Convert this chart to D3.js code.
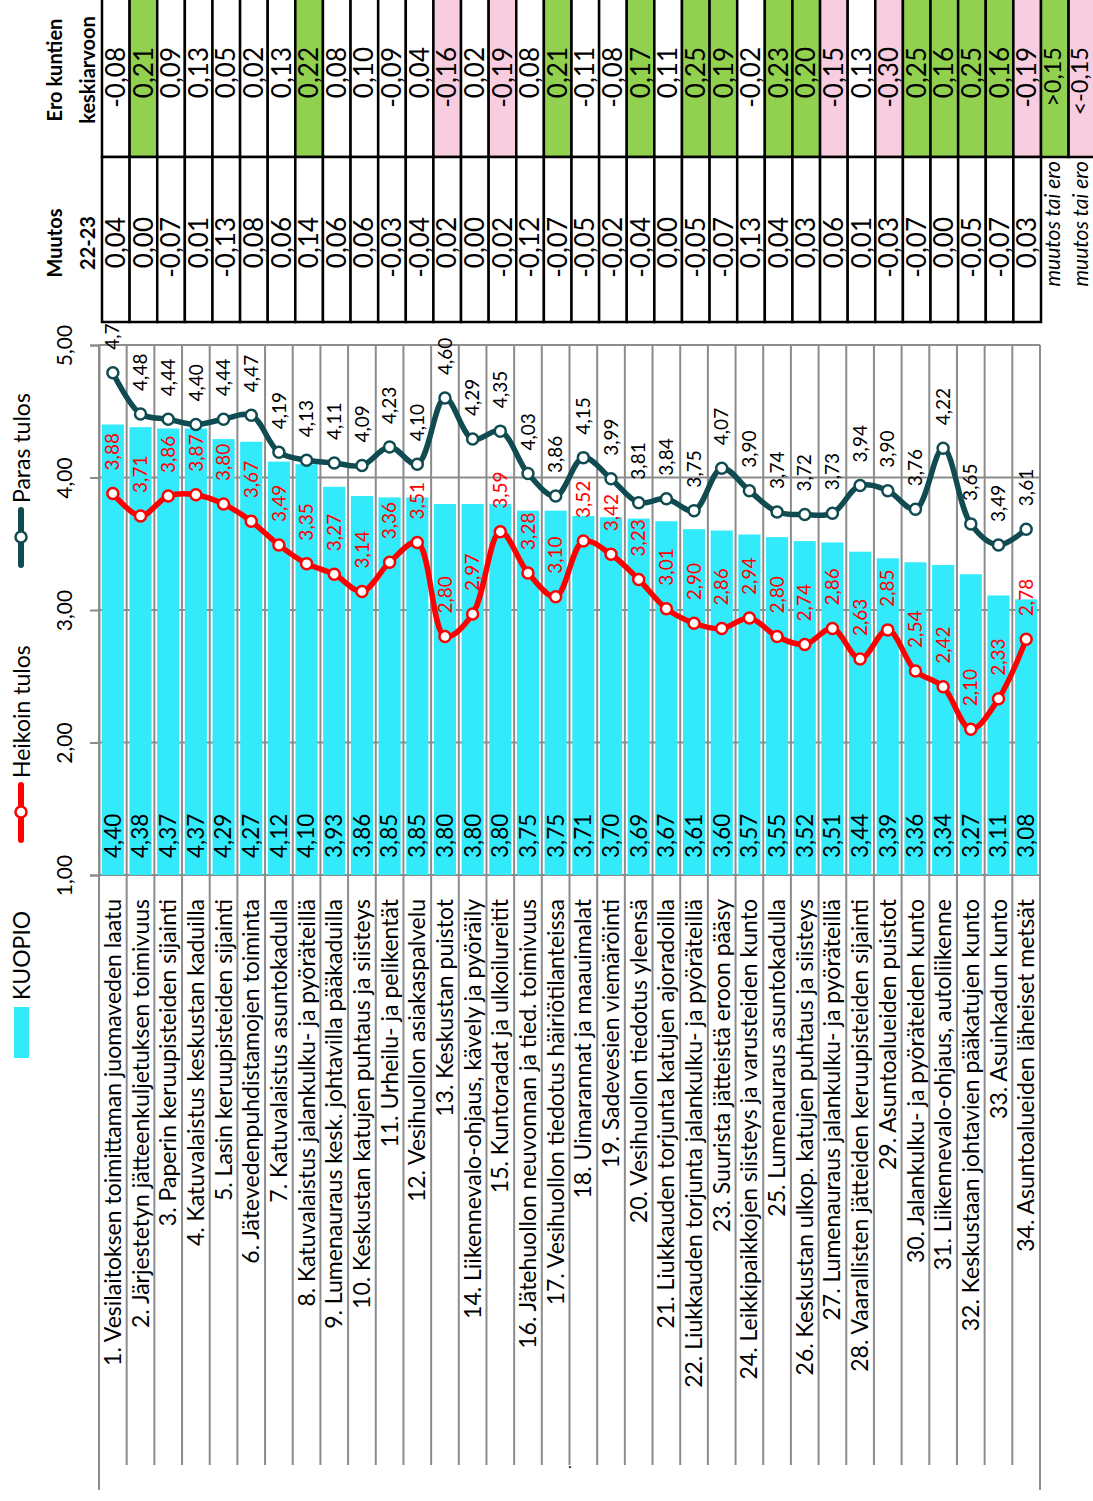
<!DOCTYPE html>
<html>
<head>
<meta charset="utf-8">
<script src="https://cdn.jsdelivr.net/npm/d3@7"></script>
<style>
  body { margin: 0; background: #fff; }
  svg text { font-family: Lato, "Open Sans", sans-serif; }
</style>
</head>
<body>
<div id="chart"></div>
<script>
// questions, in chart order
const categories = [
  "1. Vesilaitoksen toimittaman juomaveden laatu",
  "2. Järjestetyn jätteenkuljetuksen toimivuus",
  "3. Paperin keruupisteiden sijainti",
  "4. Katuvalaistus keskustan kaduilla",
  "5. Lasin keruupisteiden sijainti",
  "6. Jätevedenpuhdistamojen toiminta",
  "7. Katuvalaistus asuntokadulla",
  "8. Katuvalaistus jalankulku- ja pyöräteillä",
  "9. Lumenauraus kesk. johtavilla pääkaduilla",
  "10. Keskustan katujen puhtaus ja siisteys",
  "11. Urheilu- ja pelikentät",
  "12. Vesihuollon asiakaspalvelu",
  "13. Keskustan puistot",
  "14. Liikennevalo-ohjaus, kävely ja pyöräily",
  "15. Kuntoradat ja ulkoilureitit",
  "16. Jätehuollon neuvonnan ja tied. toimivuus",
  "17. Vesihuollon tiedotus häiriötilanteissa",
  "18. Uimarannat ja maauimalat",
  "19. Sadevesien viemäröinti",
  "20. Vesihuollon tiedotus yleensä",
  "21. Liukkauden torjunta katujen ajoradoilla",
  "22. Liukkauden torjunta jalankulku- ja pyöräteillä",
  "23. Suurista jätteistä eroon pääsy",
  "24. Leikkipaikkojen siisteys ja varusteiden kunto",
  "25. Lumenauraus asuntokadulla",
  "26. Keskustan ulkop. katujen puhtaus ja siisteys",
  "27. Lumenauraus jalankulku- ja pyöräteillä",
  "28. Vaarallisten jätteiden keruupisteiden sijainti",
  "29. Asuntoalueiden puistot",
  "30. Jalankulku- ja pyöräteiden kunto",
  "31. Liikennevalo-ohjaus, autoliikenne",
  "32. Keskustaan johtavien pääkatujen kunto",
  "33. Asuinkadun kunto",
  "34. Asuntoalueiden läheiset metsät"
];

// KUOPIO (bars)
const kuopio = [4.40, 4.38, 4.37, 4.37, 4.29, 4.27, 4.12, 4.10, 3.93, 3.86, 3.85, 3.85,
  3.80, 3.80, 3.80, 3.75, 3.75, 3.71, 3.70, 3.69, 3.67, 3.61, 3.60, 3.57, 3.55, 3.52,
  3.51, 3.44, 3.39, 3.36, 3.34, 3.27, 3.11, 3.08];

// Heikoin tulos (red line)
const heikoin = [3.88, 3.71, 3.86, 3.87, 3.80, 3.67, 3.49, 3.35, 3.27, 3.14, 3.36, 3.51,
  2.80, 2.97, 3.59, 3.28, 3.10, 3.52, 3.42, 3.23, 3.01, 2.90, 2.86, 2.94, 2.80, 2.74,
  2.86, 2.63, 2.85, 2.54, 2.42, 2.10, 2.33, 2.78];

// Paras tulos (dark line)
const paras = [4.79, 4.48, 4.44, 4.40, 4.44, 4.47, 4.19, 4.13, 4.11, 4.09, 4.23, 4.10,
  4.60, 4.29, 4.35, 4.03, 3.86, 4.15, 3.99, 3.81, 3.84, 3.75, 4.07, 3.90, 3.74, 3.72,
  3.73, 3.94, 3.90, 3.76, 4.22, 3.65, 3.49, 3.61];

// table: Muutos 22-23
const muutos = [0.04, 0.00, -0.07, 0.01, -0.13, 0.08, 0.06, 0.14, 0.06, 0.06, -0.03, -0.04,
  0.02, 0.00, -0.02, -0.12, -0.07, -0.05, -0.02, -0.04, 0.00, -0.05, -0.07, 0.13, 0.04, 0.03,
  0.06, 0.01, -0.03, -0.07, 0.00, -0.05, -0.07, 0.03];

// table: Ero kuntien keskiarvoon
const ero = [-0.08, 0.21, 0.09, 0.13, 0.05, 0.02, 0.13, 0.22, 0.08, 0.10, -0.09, 0.04,
  -0.16, 0.02, -0.19, 0.08, 0.21, -0.11, -0.08, 0.17, 0.11, 0.25, 0.19, -0.02, 0.23, 0.20,
  -0.15, 0.13, -0.30, 0.25, 0.16, 0.25, 0.16, -0.19];

const valueTicks = [1, 2, 3, 4, 5];
const limit = 0.15;

const width = 1093, height = 1501;
const cBar = "#33EAFB", cBest = "#0F4B50", cWorst = "#FF0000", cGrid = "#8C8C8C";
const cGreen = "#92D050", cPink = "#F9CDE0";

const fi = d3.formatLocale({decimal: ",", thousands: " ", grouping: [3], currency: ["", "€"], minus: "-"});
const f2 = fi.format(".2f");

const svg = d3.select("#chart").append("svg")
    .attr("width", width)
    .attr("height", height);

// scales: categories run left to right, values run upwards
const x = d3.scaleBand()
    .domain(d3.range(categories.length))
    .range([99, 1040])
    .paddingInner(0.2)
    .paddingOuter(0.1);
const y = d3.scaleLinear().domain([1, 5]).range([875, 345]);
const cx = i => x(i) + x.bandwidth() / 2;
const edges = d3.range(categories.length).map(i => x(i) - x.step() * x.paddingInner() / 2)
    .concat([x.range()[1]]);

// rotated text helper (reads bottom to top)
function vtext(g, px, py, str, size, anchor) {
  return g.append("text")
      .attr("transform", "translate(" + px + "," + py + ") rotate(-90)")
      .attr("dy", "0.35em")
      .attr("text-anchor", anchor)
      .style("font-size", size + "px")
      .text(str);
}

// horizontal gridlines (behind the bars)
svg.append("g").selectAll("line")
  .data(valueTicks)
  .enter().append("line")
    .attr("x1", x.range()[0]).attr("x2", x.range()[1])
    .attr("y1", d => y(d)).attr("y2", d => y(d))
    .attr("stroke", cGrid).attr("stroke-width", 2);

// bars
svg.append("g").selectAll("rect")
  .data(kuopio)
  .enter().append("rect")
    .attr("x", (d, i) => x(i))
    .attr("width", x.bandwidth())
    .attr("y", d => y(d))
    .attr("height", d => y(1) - y(d))
    .style("fill", cBar);

// category separators, running down through the label area
svg.append("g").selectAll("line")
  .data(edges)
  .enter().append("line")
    .attr("x1", d => d).attr("x2", d => d)
    .attr("y1", y(5))
    .attr("y2", (d, i) => (i === 0 || i === edges.length - 1) ? 1490 : 1465)
    .attr("stroke", cGrid).attr("stroke-width", 2);

// value axis
const axis = svg.append("g")
    .attr("transform", "translate(" + x.range()[0] + ",0)")
    .call(d3.axisLeft(y).tickValues(valueTicks).tickSize(9).tickFormat(f2));
axis.select(".domain").attr("stroke", cGrid).attr("stroke-width", 2);
axis.selectAll(".tick line").attr("stroke", cGrid).attr("stroke-width", 2);
axis.selectAll(".tick text")
    .attr("x", 0).attr("dy", 0)
    .attr("fill", "#000")
    .attr("text-anchor", "middle")
    .attr("transform", "translate(-27,0) rotate(-90)")
    .style("font-size", "21px")
    .style("font-family", "Lato, sans-serif");

// bar value labels
const barLab = svg.append("g");
kuopio.forEach((v, i) => vtext(barLab, cx(i), y(1) - 17, f2(v), 22.5, "start").attr("fill", "#000"));

// lines
const line = d3.line()
    .x((d, i) => cx(i))
    .y(d => y(d))
    .curve(d3.curveCatmullRom.alpha(0.5));

[[paras, cBest, "#000"], [heikoin, cWorst, cWorst]].forEach(([vals, col, labCol]) => {
  const g = svg.append("g");
  g.append("path")
      .datum(vals)
      .attr("d", line)
      .attr("fill", "none")
      .attr("stroke", col)
      .attr("stroke-width", 5.5)
      .attr("stroke-linejoin", "round");
  g.selectAll("circle")
    .data(vals)
    .enter().append("circle")
      .attr("cx", (d, i) => cx(i))
      .attr("cy", d => y(d))
      .attr("r", 5.5)
      .attr("fill", "#fff")
      .attr("stroke", col)
      .attr("stroke-width", 2.5);
  vals.forEach((v, i) => vtext(g, cx(i), y(v) - 23, f2(v), 19, "start").attr("fill", labCol));
});

// table on top
const tx = d3.scaleBand().domain(d3.range(categories.length + 2)).range([102, 102 + (categories.length + 2) * (1041 - 102) / categories.length]);
const tcx = i => tx(i) + tx.bandwidth() / 2;
const table = svg.append("g");
const eroRow = {top: -3, bottom: 157}, muutosRow = {top: 157, bottom: 322};

const eroCells = ero.map(v => ({text: f2(v), fill: v > limit ? cGreen : (v <= -limit ? cPink : "#fff")}))
    .concat([{text: ">" + f2(limit), fill: cGreen}, {text: "<" + f2(-limit), fill: cPink}]);

table.selectAll("rect.ero")
  .data(eroCells)
  .enter().append("rect")
    .attr("class", "ero")
    .attr("x", (d, i) => tx(i)).attr("width", tx.bandwidth())
    .attr("y", eroRow.top).attr("height", eroRow.bottom - eroRow.top)
    .attr("fill", d => d.fill)
    .attr("stroke", "#000").attr("stroke-width", 2.5);
eroCells.forEach((d, i) => {
  const main = i < categories.length;
  vtext(table, main ? tcx(i) : tcx(i) - 2.5, 47, d.text, main ? 26 : 23.5, "end").attr("fill", "#000");
});

table.selectAll("rect.muutos")
  .data(muutos)
  .enter().append("rect")
    .attr("class", "muutos")
    .attr("x", (d, i) => tx(i)).attr("width", tx.bandwidth())
    .attr("y", muutosRow.top).attr("height", muutosRow.bottom - muutosRow.top)
    .attr("fill", "#fff")
    .attr("stroke", "#000").attr("stroke-width", 2.5);
muutos.forEach((v, i) => vtext(table, tcx(i), 217, f2(v), 26, "end").attr("fill", "#000"));
[0, 1].forEach(k => vtext(table, tcx(categories.length + k) - 2, 161, "muutos tai ero", 21, "end")
    .style("font-style", "italic").attr("fill", "#000"));

// table headers
[["Ero kuntien", 55, 70], ["keskiarvoon", 88, 70], ["Muutos", 55, 243], ["22-23", 88, 243]]
  .forEach(([t, px, py]) => vtext(svg, px, py, t, 20, "middle").style("font-weight", "bold"));

// legend
const leg = svg.append("g");
[[cBest, "Paras tulos", 510], [cWorst, "Heikoin tulos", 785]].forEach(([col, label, top]) => {
  leg.append("line")
      .attr("x1", 21).attr("x2", 21).attr("y1", top).attr("y2", top + 55)
      .attr("stroke", col).attr("stroke-width", 6).attr("stroke-linecap", "round");
  leg.append("circle")
      .attr("cx", 21).attr("cy", top + 27).attr("r", 5.5)
      .attr("fill", "#fff").attr("stroke", col).attr("stroke-width", 2.5);
  vtext(leg, 22, top - 7, label, 23, "start").attr("fill", "#000");
});
leg.append("rect").attr("x", 14).attr("y", 1007).attr("width", 15).attr("height", 51).style("fill", cBar);
vtext(leg, 22, 1000, "KUOPIO", 23, "start").attr("fill", "#000");

// category labels
const catLab = svg.append("g");
categories.forEach((c, i) => vtext(catLab, cx(i), 899, c, 23, "end").attr("fill", "#000"));

svg.append("text").attr("x", 568).attr("y", 1468).style("font-size", "16px").text(".");
</script>
</body>
</html>
